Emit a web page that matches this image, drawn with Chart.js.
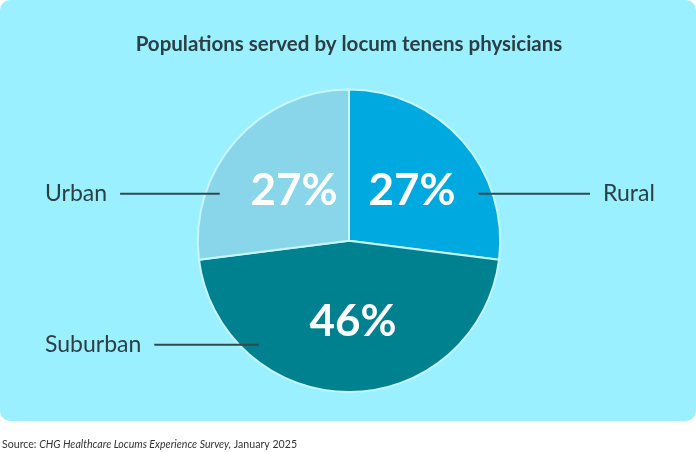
<!DOCTYPE html>
<html>
<head>
<meta charset="utf-8">
<script src="https://cdn.jsdelivr.net/npm/chart.js@4.4.1/dist/chart.umd.min.js"></script>
<style>
  html, body { margin: 0; padding: 0; background: #ffffff; }
  #wrap { width: 696px; height: 452px; position: relative; }
</style>
</head>
<body>
<div id="wrap"><canvas id="pieChart"></canvas></div>
<script>
const categories = ['Rural', 'Suburban', 'Urban'];
const shares = [27, 46, 27];
const sliceColors = ['#00a9e0', '#00818f', '#89d6ea'];

const FONT = 'Lato, "Open Sans", sans-serif';
const TEXT = '#2c4044';

// where each leader line touches its slice (canvas angle in degrees, share of radius)
const leaders = {
    Rural:    { side: 'right', angle: -20, r: 0.91 },
    Suburban: { side: 'left',  angle: 131, r: 0.91 },
    Urban:    { side: 'left',  angle: 200, r: 0.91 }
};

const cardPlugin = {
    id: 'card',
    beforeDraw(chart) {
        const ctx = chart.ctx;
        const w = chart.width, h = chart.height - 31;
        ctx.save();
        ctx.fillStyle = '#9af0ff';
        ctx.beginPath();
        ctx.roundRect(0, 0, w, h, 10);
        ctx.fill();
        ctx.restore();
    }
};

const labelPlugin = {
    id: 'sliceLabels',
    afterDatasetsDraw(chart) {
        const ctx = chart.ctx;
        const arcs = chart.getDatasetMeta(0).data;
        ctx.save();
        arcs.forEach((arc, i) => {
            const p = arc.getProps(['x', 'y', 'startAngle', 'endAngle', 'outerRadius'], true);
            const mid = (p.startAngle + p.endAngle) / 2;
            const r = p.outerRadius * 0.52;
            ctx.fillStyle = '#ffffff';
            ctx.font = 'bold 44px ' + FONT;
            ctx.textAlign = 'center';
            ctx.textBaseline = 'middle';
            ctx.fillText(shares[i] + '%', p.x + Math.cos(mid) * r + 4, p.y + Math.sin(mid) * r + 2);

            // leader line and category name
            const cfg = leaders[categories[i]];
            const a = cfg.angle * Math.PI / 180;
            const ax = p.x + Math.cos(a) * p.outerRadius * cfg.r;
            const ay = p.y + Math.sin(a) * p.outerRadius * cfg.r;
            ctx.font = '23px ' + FONT;
            ctx.fillStyle = TEXT;
            ctx.strokeStyle = '#2f4a4e';
            ctx.lineWidth = 2;
            let lineStart, lineEnd;
            ctx.textAlign = 'left';
            if (cfg.side === 'left') {
                const tw = ctx.measureText(categories[i]).width;
                ctx.fillText(categories[i], 45, ay);
                lineStart = 45 + tw + 13;
                lineEnd = ax;
            } else {
                ctx.fillText(categories[i], 603, ay);
                lineStart = ax;
                lineEnd = 590;
            }
            ctx.beginPath();
            ctx.moveTo(lineStart, ay);
            ctx.lineTo(lineEnd, ay);
            ctx.stroke();
        });
        ctx.restore();
    },
    afterDraw(chart) {
        // source line under the card
        const ctx = chart.ctx;
        const parts = [
            ['Source: ', 'normal'],
            ['CHG Healthcare Locums Experience Survey,', 'italic'],
            [' January 2025', 'normal']
        ];
        ctx.save();
        ctx.fillStyle = '#333333';
        ctx.textBaseline = 'alphabetic';
        ctx.textAlign = 'left';
        let x = 2;
        parts.forEach(([t, style]) => {
            ctx.font = style + ' 10.6px ' + FONT;
            ctx.fillText(t, x, 448);
            x += ctx.measureText(t).width;
        });
        ctx.restore();
    }
};

new Chart(document.getElementById('pieChart'), {
    type: 'pie',
    data: {
        labels: categories,
        datasets: [{
            data: shares,
            backgroundColor: sliceColors,
            borderColor: '#c6f6ff',
            borderWidth: 2
        }]
    },
    options: {
        responsive: true,
        maintainAspectRatio: false,
        animation: false,
        layout: {
            padding: { top: 0, bottom: 59, left: 2, right: 0 }
        },
        plugins: {
            legend: { display: false },
            tooltip: { enabled: false },
            title: {
                display: true,
                text: 'Populations served by locum tenens physicians',
                color: TEXT,
                font: { family: FONT, size: 20.5, weight: 'bold' },
                padding: { top: 32, bottom: 32 }
            }
        }
    },
    plugins: [cardPlugin, labelPlugin]
});
</script>
</body>
</html>
